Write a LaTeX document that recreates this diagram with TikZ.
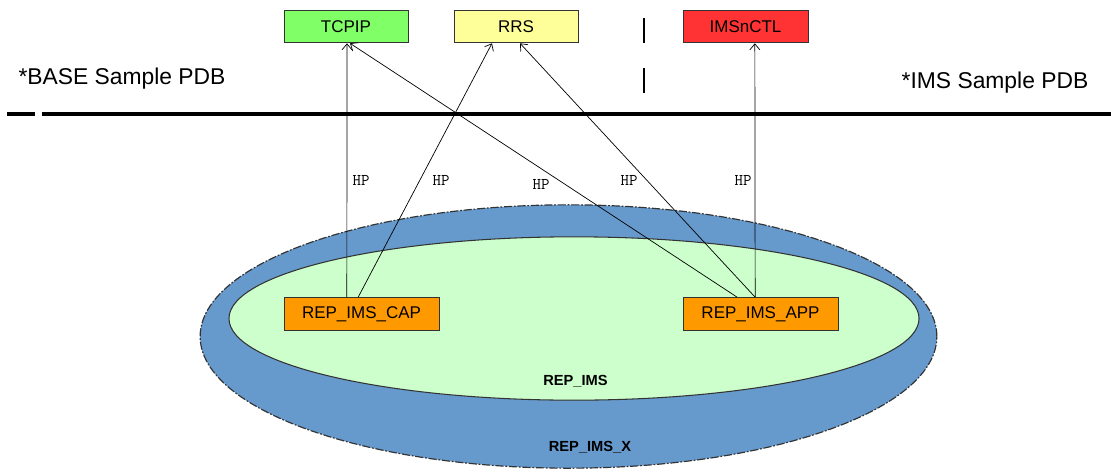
\documentclass[tikz,border=0pt]{standalone}
\usepackage{fontspec}
\setmainfont{Liberation Sans}
\usepackage{tikz}
\usetikzlibrary{arrows.meta}
\definecolor{verde}{HTML}{80FF66}
\definecolor{giallo}{HTML}{FFFF99}
\definecolor{rosso}{HTML}{FF3333}
\definecolor{arancio}{HTML}{FF9900}
\definecolor{blu}{HTML}{6699CC}
\definecolor{verdino}{HTML}{CCFFCC}
\definecolor{bordo}{HTML}{333333}

\begin{document}
\begin{tikzpicture}[x=0.03cm, y=-0.03cm,
  pdbbox/.style={draw=bordo, line width=0.8pt, minimum height=0.98cm, inner sep=0pt,
    font=\fontsize{14.5}{16}\selectfont},
  hpline/.style={line width=0.6pt, -{Straight Barb[length=1.8mm, width=3mm]}},
  hplabel/.style={font=\ttfamily\fontsize{14}{15}\selectfont, inner sep=0pt}]
  \useasboundingbox (0,0) rectangle (1111,472);
  % Ellipse REP_IMS_X
  \filldraw[blu, draw=bordo, line width=1pt,
    dash pattern=on 7pt off 1.5pt on 1.5pt off 1.5pt] (568.5,336.5) ellipse (11.05cm and 3.95cm);
  % Ellipse REP_IMS
  \filldraw[verdino, draw=bordo, line width=0.9pt] (574,318.5) ellipse (10.35cm and 2.45cm);
  \node[font=\bfseries\fontsize{12.5}{14}\selectfont] (repims) at (575.5,381) {REP\_IMS};
  \node[font=\bfseries\fontsize{12.5}{14}\selectfont] (repimsx) at (590,447) {REP\_IMS\_X};
  % Separator
  \draw[line width=2.6pt] (7,114) -- (35,114);
  \draw[line width=2.6pt] (42,114) -- (1111,114);
  \draw[line width=1.6pt] (644,18) -- (644,43);
  \draw[line width=1.6pt] (644,68) -- (644,93);
  \node[font=\fontsize{19.5}{21}\selectfont] (base) at (122,79) {*BASE Sample PDB};
  \node[font=\fontsize{19.5}{21}\selectfont] (ims) at (995,83) {*IMS Sample PDB};
  % Boxes at the top
  \node[pdbbox, fill=verde, minimum width=3.72cm] (tcpip) at (346,26.5) {TCPIP};
  \node[pdbbox, fill=giallo, minimum width=3.72cm] (rrs) at (516,26.5) {RRS};
  \node[pdbbox, fill=rosso, minimum width=3.75cm] (imsnctl) at (745.5,26.5) {IMSnCTL};
  % Boxes in the ellipse
  \node[pdbbox, fill=arancio, minimum width=4.65cm] (cap) at (361.5,314) {REP\_IMS\_CAP};
  \node[pdbbox, fill=arancio, minimum width=4.65cm] (app) at (760.5,314) {REP\_IMS\_APP};
  % Connections
  \draw[hpline] ([xshift=-0.44cm]cap.north) -- ([xshift=0.03cm]tcpip.south);
  \draw[hpline] ([xshift=-0.1cm]cap.north) -- ([xshift=-0.72cm]rrs.south);
  \draw[hpline] ([xshift=-0.7cm]app.north) -- ([xshift=0.12cm]tcpip.south);
  \draw[hpline] ([xshift=-0.16cm]app.north) -- ([xshift=0.12cm]rrs.south);
  \draw[hpline] ([xshift=-0.16cm]app.north) -- ([xshift=0.28cm]imsnctl.south);
  % Labels
  \node[hplabel] (hp1) at (361,180) {HP};
  \node[hplabel] (hp2) at (441,180) {HP};
  \node[hplabel] (hp3) at (541,184) {HP};
  \node[hplabel] (hp4) at (629,180) {HP};
  \node[hplabel] (hp5) at (743,180) {HP};
\end{tikzpicture}
\end{document}
